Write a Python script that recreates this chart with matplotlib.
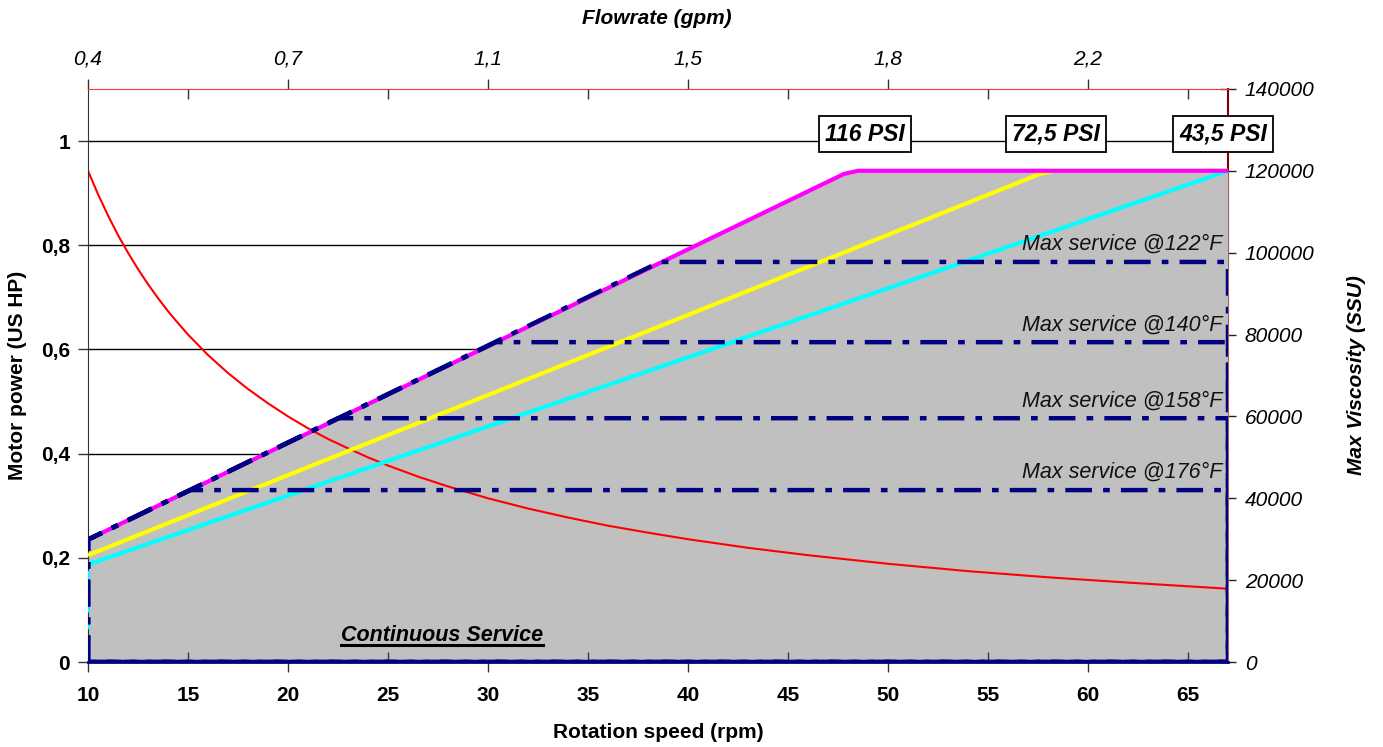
import matplotlib
matplotlib.use('Agg')
import matplotlib.pyplot as plt
from matplotlib.lines import Line2D
from matplotlib.transforms import IdentityTransform

plt.rcParams['font.family'] = ['Liberation Sans', 'DejaVu Sans']

# ---- data ----
rpm_ticks = [10, 15, 20, 25, 30, 35, 40, 45, 50, 55, 60, 65]
power_ticks = [0, 0.2, 0.4, 0.6, 0.8, 1.0]
power_labels = ['0', '0,2', '0,4', '0,6', '0,8', '1']
ssu_ticks = [0, 20000, 40000, 60000, 80000, 100000, 120000, 140000]
flow_tick_rpm = [10, 20, 30, 40, 50, 60]
flow_labels = ['0,4', '0,7', '1,1', '1,5', '1,8', '2,2']

mag_rpm = [10, 47.8, 48.5, 67]
mag_hp = [0.235, 0.937, 0.943, 0.943]
yel_rpm = [10, 57.6, 58.3, 67]
yel_hp = [0.205, 0.937, 0.943, 0.943]
cyan_rpm = [10, 67]
cyan_hp = [0.187, 0.943]

visc_rpm = [10, 10.5, 11, 11.5, 12, 12.5, 13, 13.5, 14, 14.5, 15, 16, 17, 18, 19, 20,
            21, 22, 23, 24, 25, 26.5, 28, 30, 32, 34, 36, 38, 40, 43, 46, 50, 54, 58,
            62, 67]
visc_ssu = [120000, 114300, 109100, 104300, 100000, 96000, 92300, 88900, 85700, 82800,
            80000, 75000, 70600, 66700, 63200, 60000, 57100, 54500, 52200, 50000,
            48000, 45300, 42900, 40000, 37500, 35300, 33300, 31600, 30000, 27900,
            26100, 24000, 22200, 20700, 19400, 17900]

service_labels = ['Max service @122°F', 'Max service @140°F',
                  'Max service @158°F', 'Max service @176°F']
service_hp = [0.768, 0.614, 0.468, 0.330]
service_start_rpm = [38.6, 30.4, 22.5, 15.1]

psi_labels = ['116 PSI', '72,5 PSI', '43,5 PSI']
psi_rpm = [48.85, 58.4, 66.75]
psi_hp = 1.013

RPM_MIN, RPM_MAX = 10, 67
HP_MAX = 1.1
SSU_MAX = 140000

# ---- figure ----
fig = plt.figure(figsize=(13.83, 7.47), dpi=100)
ax = fig.add_axes([88/1383, 85/747, (1228-88)/1383, (662-89)/747])
ax2 = ax.twinx()
ax.set_xlim(RPM_MIN, RPM_MAX)
ax.set_ylim(0, HP_MAX)
ax2.set_ylim(0, SSU_MAX)
ax.set_zorder(2)
ax2.set_zorder(1)
ax.patch.set_visible(False)

# grid lines
for v in power_ticks[1:]:
    ax.axhline(v, color='black', lw=1, zorder=0.5)

# grey area
ax.fill_between(mag_rpm, 0, mag_hp, color='#C0C0C0', lw=0, zorder=1)

# viscosity curve (right axis scale)
ax.plot(visc_rpm, visc_ssu, color='#FF0000', lw=1.5, transform=ax2.transData, zorder=2)

ax.plot(cyan_rpm, cyan_hp, color='#00FFFF', lw=3, zorder=3, solid_capstyle='butt')
ax.plot(yel_rpm, yel_hp, color='#FFFF00', lw=3, zorder=3.1, solid_capstyle='butt')
ax.plot(mag_rpm, mag_hp, color='#FF00FF', lw=3, zorder=3.2, solid_capstyle='butt')

# cyan edges
ax.plot([RPM_MIN, RPM_MAX], [0, 0], color='#00FFFF', lw=2, ls=(0, (1, 12)), zorder=3.5)
ax.plot([RPM_MIN, RPM_MIN], [0, cyan_hp[0]], color='#00FFFF', lw=2, ls=(0, (3, 3)), zorder=3.5)

# max service polygons
for lab, lvl, xs in zip(service_labels, service_hp, service_start_rpm):
    px = [RPM_MIN, RPM_MIN, xs, RPM_MAX, RPM_MAX, RPM_MIN]
    py = [0, mag_hp[0], lvl, lvl, 0, 0]
    ax.plot(px, py, color='#000080', lw=3.2, ls=(0, (6, 2.5, 1.5, 2.5)), zorder=4)
    ax.annotate(lab, xy=(66.7, lvl), xytext=(0, 5), textcoords='offset points',
                ha='right', va='bottom', fontsize=15.5, style='italic', color='#111111', zorder=5)

# PSI boxes
for lab, xr in zip(psi_labels, psi_rpm):
    ax.text(xr, psi_hp, lab, ha='center', va='center', fontsize=16.5, fontweight='bold',
            style='italic', zorder=6, clip_on=False,
            bbox=dict(boxstyle='square,pad=0.28', fc='white', ec='black', lw=1.3))

cs = ax.text(27.7, 0.05, 'Continuous Service', ha='center', va='center', fontsize=15.5,
             fontweight='bold', style='italic', zorder=6)

# ---- axes styling ----
ax.spines['left'].set_color('#333333')
ax.spines['bottom'].set_color('#000080')
ax.spines['bottom'].set_linewidth(2)
ax.spines['top'].set_color('#FF3333')
ax.spines['right'].set_visible(False)
for s in ['left', 'bottom', 'top']:
    ax2.spines[s].set_visible(False)
ax2.spines['right'].set_color('#800000')
ax2.spines['right'].set_linewidth(1.5)

ax.set_yticks(power_ticks, power_labels)
ax.tick_params(axis='y', direction='out', length=7, width=1, pad=6, labelsize=15, color='#333333')
for t in ax.get_yticklabels():
    t.set_fontweight('bold')

major_rpm = rpm_ticks[0::2]
minor_rpm = rpm_ticks[1::2]
ax.set_xticks(major_rpm, [str(v) for v in major_rpm])
ax.set_xticks(minor_rpm, [str(v) for v in minor_rpm], minor=True)
ax.tick_params(axis='x', which='major', direction='out', length=7, width=1, pad=10,
               labelsize=15, color='#333333')
ax.tick_params(axis='x', which='minor', direction='in', length=7, width=1, pad=17,
               labelsize=15, color='#333333')
for t in ax.get_xticklabels() + ax.get_xticklabels(minor=True):
    t.set_fontweight('bold')

ax2.set_yticks(ssu_ticks, [str(v) for v in ssu_ticks])
ax2.tick_params(axis='y', direction='inout', length=12, width=1, pad=6, labelsize=15, color='#222222')
for t in ax2.get_yticklabels():
    t.set_style('italic')

top = ax.secondary_xaxis('top')
top.set_xticks(flow_tick_rpm, flow_labels)
top.set_xticks(minor_rpm, minor=True)
top.tick_params(axis='x', which='major', direction='out', length=7, width=1, pad=8,
                labelsize=15, color='#333333')
top.tick_params(axis='x', which='minor', direction='in', length=7, width=1, color='#333333')
top.spines['top'].set_visible(False)
for t in top.get_xticklabels():
    t.set_style('italic')

# axis titles
fig.text(658/1383, 1 - 733/747, 'Rotation speed (rpm)', ha='center', va='center',
         fontsize=15, fontweight='bold')
fig.text(18/1383, 1 - 375/747, 'Motor power (US HP)', ha='center', va='center',
         rotation=90, fontsize=15, fontweight='bold')
fig.text(1357/1383, 1 - 375/747, 'Max Viscosity (SSU)', ha='center', va='center',
         rotation=90, fontsize=15, fontweight='bold', style='italic')
fig.text(657/1383, 1 - 18/747, 'Flowrate (gpm)', ha='center', va='center',
         fontsize=15, fontweight='bold', style='italic')

# underline for "Continuous Service"
fig.canvas.draw()
bb = cs.get_window_extent()
fig.add_artist(Line2D([bb.x0, bb.x1], [bb.y0 + 1, bb.y0 + 1], color='black', lw=2.2,
                      transform=IdentityTransform(), zorder=20))

fig.savefig('out.png', dpi=100)
